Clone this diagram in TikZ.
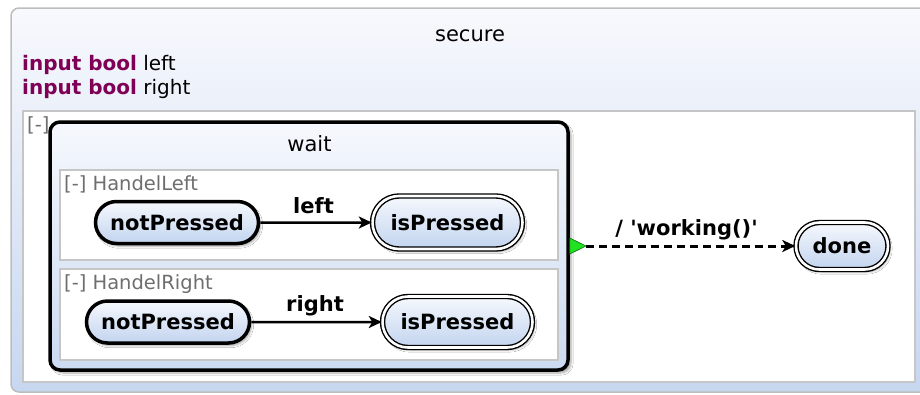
\documentclass[tikz,border=0pt]{standalone}
\usepackage{fontspec}
\setmainfont{DejaVu Sans}[Ligatures=TeXOff]
\usetikzlibrary{shapes.misc,arrows.meta,shadows.blur}
\definecolor{kw}{HTML}{7F0055}
\definecolor{lblgray}{HTML}{6E6E6E}
\definecolor{regionline}{HTML}{C6C6C6}
\definecolor{outerline}{HTML}{BDBDBD}
\definecolor{bgtop}{HTML}{F8F9FD}
\definecolor{bgbot}{HTML}{C6D7F0}
\definecolor{sttop}{HTML}{F6F8FD}
\definecolor{stbot}{HTML}{C2D4EF}
\definecolor{trigreen}{HTML}{22E022}
\tikzset{
  statebase/.style={rounded rectangle, top color=sttop, bottom color=stbot,
    font=\fontsize{21}{25}\selectfont\bfseries, inner sep=0pt,
    blur shadow={shadow xshift=2pt, shadow yshift=-2.5pt, shadow blur steps=6, shadow opacity=35}},
  initstate/.style={statebase, draw=black, line width=3.5pt, minimum width=163pt, minimum height=42pt},
  finalstate/.style={statebase, draw=black, double=white, line width=1.4pt, double distance=2.6pt},
  trans/.style={draw=black, line width=2.5pt, -{Stealth[length=13pt,width=12pt,inset=3.5pt]}},
  dtrans/.style={draw=black, line width=3pt, dash pattern=on 8pt off 5pt, -{Stealth[length=13pt,width=12pt,inset=3.5pt]}},
  tlabel/.style={font=\fontsize{21}{25}\selectfont\bfseries, inner sep=0pt, anchor=base},
  reglabel/.style={font=\fontsize{19.5}{23}\selectfont, text=lblgray, inner sep=0pt, anchor=base west},
  region/.style={rectangle, fill=white, draw=regionline, line width=1.5pt, inner sep=0pt},
  waitbox/.style={rectangle, rounded corners=10pt, draw=black, line width=3.5pt,
    top color=sttop, bottom color=stbot!85!white, inner sep=0pt,
    blur shadow={shadow xshift=3pt, shadow yshift=-3pt, shadow blur steps=6, shadow opacity=35}},
  plaintext/.style={font=\fontsize{21}{25}\selectfont, inner sep=0pt, anchor=base},
  decltext/.style={font=\fontsize{20}{24}\selectfont, inner sep=0pt, anchor=base west},
}
\begin{document}
\begin{tikzpicture}[x=1pt,y=-1pt]
\useasboundingbox (0,0) rectangle (920,394);
% outer region "secure"
\path[draw=outerline, line width=1.5pt, rounded corners=8pt, top color=bgtop, bottom color=bgbot]
  (11,8) rectangle (940,392);
\node[plaintext] (secure) at (470,41) {secure};
\node[decltext] (in1) at (22,70) {\textcolor{kw}{\bfseries input bool} left};
\node[decltext] (in2) at (22,94) {\textcolor{kw}{\bfseries input bool} right};
% inner region
\node[region, minimum width=892pt, minimum height=271pt] (inner) at (469,246.5) {};
\node[reglabel] (col) at (27,131) {[-]};
% wait state
\node[waitbox, minimum width=518pt, minimum height=248pt] (wait) at (309,246) {};
\node[plaintext] (waitt) at (309.5,151) {wait};
% regions in wait
\node[region, minimum width=498pt, minimum height=90pt] (hl) at (309,215) {};
\node[region, minimum width=498pt, minimum height=91pt] (hr) at (309,314.5) {};
\node[reglabel] (hlt) at (64,190) {[-] HandelLeft};
\node[reglabel] (hrt) at (64,289) {[-] HandelRight};
% states
\node[initstate] (np1) at (177,222.5) {notPressed};
\node[finalstate, minimum width=150pt, minimum height=53pt] (ip1) at (447.5,222.5) {isPressed};
\node[initstate] (np2) at (168,322) {notPressed};
\node[finalstate, minimum width=150pt, minimum height=51pt] (ip2) at (457.5,322) {isPressed};
\node[finalstate, minimum width=92pt, minimum height=47pt] (done) at (842,246) {done};
% transitions
\draw[trans] (np1) -- (ip1);
\node[tlabel] (l1) at (313.5,213) {left};
\draw[trans] (np2) -- (ip2);
\node[tlabel] (l2) at (315,311) {right};
% green triangle and dashed transition
\coordinate (tip) at (586,246);
\coordinate (tt) at (wait.east |- 0,238);
\coordinate (tb) at (wait.east |- 0,254);
\path[fill=trigreen, draw=green!45!black, line width=0.6pt] (tt) -- (tip) -- (tb) -- cycle;
\draw[dtrans] (tip) -- (done.west);
\node[tlabel] (l3) at (686.5,235) {/ 'working()'};
\end{tikzpicture}
\end{document}
